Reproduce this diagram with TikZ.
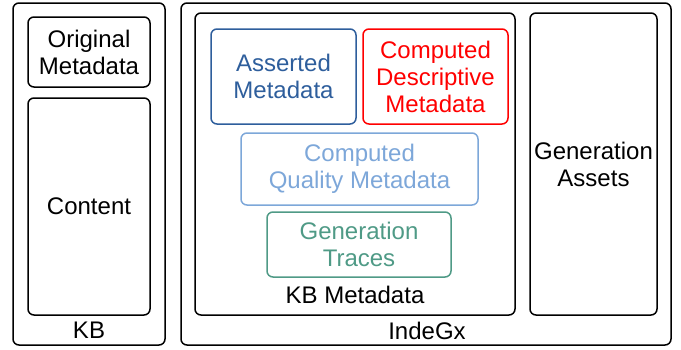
\documentclass[tikz,border=0pt]{standalone}
\usepackage{fontspec}
\setmainfont{Liberation Sans}
\definecolor{asserted}{HTML}{2E5E9C}
\definecolor{descriptive}{HTML}{FF0000}
\definecolor{quality}{HTML}{7DA7D9}
\definecolor{traces}{HTML}{4F9A86}
\tikzset{
	box/.style={draw, rounded corners=6pt, line width=1.5pt, align=center, inner sep=0pt, font=\fontsize{24}{27}\selectfont},
	label/.style={inner sep=0pt, font=\fontsize{24}{27}\selectfont},
}
\begin{document}
\begin{tikzpicture}[x=1pt,y=-1pt]
	\useasboundingbox (0,0) rectangle (681,349);
	% KB side
	\node[box, minimum width=152pt, minimum height=342pt] (KB) at (89,174) {};
	\node[box, minimum width=122pt, minimum height=70pt] (Original) at (89,52) {Original\\Metadata};
	\node[box, minimum width=122pt, minimum height=217pt] (Content) at (89,206.5) {Content};
	\node[label] (KBlabel) at (89,330) {KB};
	% IndeGx side
	\node[box, minimum width=490pt, minimum height=342pt] (IndeGx) at (426,174) {};
	\node[box, minimum width=320pt, minimum height=302pt] (KBMeta) at (355,164) {};
	\node[box, draw=asserted, text=asserted, minimum width=145pt, minimum height=95pt] (Asserted) at (283.5,76.5) {Asserted\\Metadata};
	\node[box, draw=descriptive, text=descriptive, minimum width=145pt, minimum height=95pt] (Descriptive) at (435.5,76.5) {Computed\\Descriptive\\Metadata};
	\node[box, draw=quality, text=quality, minimum width=237pt, minimum height=72pt] (Quality) at (359.5,169) {Computed\\Quality Metadata};
	\node[box, draw=traces, text=traces, minimum width=184pt, minimum height=65pt] (Traces) at (359,244.5) {Generation\\Traces};
	\node[label] (KBMetalabel) at (355,295) {KB Metadata};
	\node[box, minimum width=127pt, minimum height=302pt] (Assets) at (593.5,164) {Generation\\Assets};
	\node[label] (IndeGxlabel) at (427,331) {IndeGx};
\end{tikzpicture}
\end{document}
